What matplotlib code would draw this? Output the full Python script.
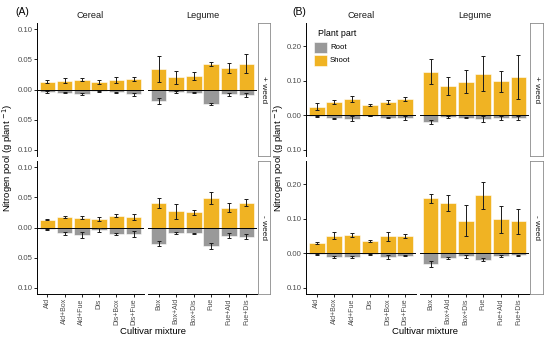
import matplotlib
matplotlib.use("Agg")
import matplotlib.pyplot as plt
import numpy as np
from matplotlib.patches import Rectangle
from matplotlib.ticker import FuncFormatter

plt.rcParams['font.family'] = ['Liberation Sans', 'DejaVu Sans']

cereal = ["Ald", "Ald+Box", "Ald+Fue", "Dis", "Dis+Box", "Dis+Fue"]
legume = ["Box", "Box+Ald", "Box+Dis", "Fue", "Fue+Ald", "Fue+Dis"]

# Panel A (+ weed): first 6 cereal, last 6 legume
a_weed_shoot = [0.013, 0.0146, 0.0163, 0.012, 0.015, 0.0174, 0.034, 0.020, 0.0225, 0.042, 0.036, 0.0427]
a_weed_shoot_err = [0.0025, 0.004, 0.003, 0.003, 0.005, 0.004, 0.021, 0.011, 0.007, 0.0036, 0.008, 0.016]
a_weed_root = [0.004, 0.005, 0.008, 0.003, 0.0045, 0.008, 0.019, 0.004, 0.005, 0.0236, 0.008, 0.009]
a_weed_root_err = [0.001, 0.001, 0.0015, 0.001, 0.001, 0.003, 0.005, 0.001, 0.001, 0.0015, 0.002, 0.004]
# Panel A (- weed)
a_noweed_shoot = [0.013, 0.017, 0.0163, 0.0136, 0.0196, 0.017, 0.040, 0.0266, 0.025, 0.0495, 0.033, 0.041]
a_noweed_shoot_err = [0.001, 0.002, 0.003, 0.0035, 0.0025, 0.0046, 0.008, 0.012, 0.0035, 0.010, 0.008, 0.006]
a_noweed_root = [0.003, 0.0098, 0.012, 0.004, 0.0103, 0.011, 0.027, 0.0092, 0.0098, 0.031, 0.0136, 0.015]
a_noweed_root_err = [0.001, 0.002, 0.005, 0.003, 0.002, 0.0046, 0.004, 0.0015, 0.0012, 0.005, 0.0045, 0.0046]
# Panel B (+ weed)
b_weed_shoot = [0.025, 0.0385, 0.048, 0.030, 0.0385, 0.047, 0.127, 0.085, 0.098, 0.121, 0.099, 0.1106]
b_weed_shoot_err = [0.0096, 0.006, 0.009, 0.003, 0.006, 0.006, 0.037, 0.027, 0.033, 0.050, 0.030, 0.064]
b_weed_root = [0.003, 0.0087, 0.0096, 0.002, 0.0067, 0.0077, 0.020, 0.005, 0.0067, 0.0106, 0.0077, 0.0077]
b_weed_root_err = [0.001, 0.002, 0.0077, 0.001, 0.002, 0.0067, 0.006, 0.002, 0.002, 0.0096, 0.005, 0.005]
# Panel B (- weed)
b_noweed_shoot = [0.030, 0.051, 0.054, 0.0365, 0.049, 0.050, 0.160, 0.146, 0.095, 0.169, 0.0985, 0.093]
b_noweed_shoot_err = [0.004, 0.0106, 0.006, 0.003, 0.012, 0.0063, 0.013, 0.022, 0.044, 0.039, 0.038, 0.036]
b_noweed_root = [0.003, 0.0115, 0.0096, 0.003, 0.0096, 0.0067, 0.030, 0.0135, 0.0087, 0.018, 0.0077, 0.006]
b_noweed_root_err = [0.001, 0.003, 0.003, 0.001, 0.006, 0.002, 0.009, 0.004, 0.004, 0.005, 0.002, 0.002]

SHOOT = '#F0B323'
ROOT = '#999999'
TICKC = '#4D4D4D'

W, H = 550, 339
fig = plt.figure(figsize=(5.5, 3.39), dpi=100)


def px_axes(x0, y0, x1, y1):
    return fig.add_axes([x0 / W, 1 - y1 / H, (x1 - x0) / W, (y1 - y0) / H])


fmt = FuncFormatter(lambda v, p: f"{abs(v):.2f}")


def draw_panel(ax, cats, shoot, shoot_err, root, root_err, ylim, yticks, first, bottom):
    x = np.arange(len(cats))
    ax.bar(x, shoot, width=0.9, color=SHOOT, edgecolor='#FFFFFF', linewidth=0.4, zorder=2)
    ax.bar(x, [-r for r in root], width=0.9, color=ROOT, edgecolor='#FFFFFF', linewidth=0.4, zorder=2)
    ax.errorbar(x, shoot, yerr=shoot_err, fmt='none', ecolor='#1a1a1a', elinewidth=0.7,
                capsize=1.6, capthick=0.7, zorder=4)
    ax.errorbar(x, [-r for r in root], yerr=root_err, fmt='none', ecolor='#1a1a1a', elinewidth=0.7,
                capsize=1.6, capthick=0.7, zorder=4)
    ax.axhline(0, color='black', lw=0.7, zorder=3)
    ax.set_xlim(-0.6, len(cats) - 0.4)
    ax.set_ylim(*ylim)
    ax.set_yticks(yticks)
    ax.yaxis.set_major_formatter(fmt)
    for s in ['top', 'right']:
        ax.spines[s].set_visible(False)
    ax.spines['left'].set_visible(first)
    ax.spines['bottom'].set_visible(bottom)
    ax.spines['left'].set_linewidth(0.7)
    ax.spines['bottom'].set_linewidth(0.7)
    ax.tick_params(axis='y', length=2, width=0.6, labelsize=5.6, labelcolor=TICKC, pad=1,
                   left=first, labelleft=first)
    ax.set_xticks(x)
    if bottom:
        ax.set_xticklabels(cats, rotation=90, fontsize=5.0, color=TICKC)
        ax.tick_params(axis='x', length=2, width=0.6, pad=1)
    else:
        ax.tick_params(axis='x', bottom=False, labelbottom=False)
    ax.patch.set_alpha(0)


def strip(x0, y0, x1, y1, label):
    ax = px_axes(x0, y0, x1, y1)
    ax.set_xticks([]); ax.set_yticks([])
    for s in ax.spines.values():
        s.set_color('#8a8a8a'); s.set_linewidth(0.6)
    ax.text(0.5, 0.5, label, rotation=270, ha='center', va='center', fontsize=6.0,
            color='#1a1a1a', transform=ax.transAxes)


rows = [(23, 156), (161, 294)]

A_lim = (-0.11, 0.11)
A_ticks = [-0.10, -0.05, 0.0, 0.05, 0.10]
A_data = [(a_weed_shoot, a_weed_shoot_err, a_weed_root, a_weed_root_err, "+ weed"),
          (a_noweed_shoot, a_noweed_shoot_err, a_noweed_root, a_noweed_root_err, "- weed")]
B_lim = (-0.1175, 0.2675)
B_ticks = [-0.10, 0.0, 0.10, 0.20]
B_data = [(b_weed_shoot, b_weed_shoot_err, b_weed_root, b_weed_root_err, "+ weed"),
          (b_noweed_shoot, b_noweed_shoot_err, b_noweed_root, b_noweed_root_err, "- weed")]

panels = [
    (A_data, A_lim, A_ticks, (37, 144), (148, 257), (258, 270)),
    (B_data, B_lim, B_ticks, (306, 416), (420, 529), (530, 543)),
]

for data, lim, ticks, cx, lx, sx in panels:
    for r, (y0, y1) in enumerate(rows):
        sh, she, ro, roe, lab = data[r]
        bottom = (r == 1)
        ax1 = px_axes(cx[0], y0, cx[1], y1)
        draw_panel(ax1, cereal, sh[:6], she[:6], ro[:6], roe[:6], lim, ticks, True, bottom)
        ax2 = px_axes(lx[0], y0, lx[1], y1)
        draw_panel(ax2, legume, sh[6:], she[6:], ro[6:], roe[6:], lim, ticks, False, bottom)
        strip(sx[0], y0, sx[1], y1, lab)
    fig.text((cx[0] + cx[1]) / 2 / W, 1 - 16 / H, "Cereal", ha='center', va='center',
             fontsize=6.6, color='#1a1a1a')
    fig.text((lx[0] + lx[1]) / 2 / W, 1 - 16 / H, "Legume", ha='center', va='center',
             fontsize=6.6, color='#1a1a1a')
    fig.text((cx[0] + sx[1]) / 2 / W, 1 - 331 / H, "Cultivar mixture", ha='center', va='center',
             fontsize=6.8, color='black')

ylab = r"Nitrogen pool (g plant $^{-1}$)"
fig.text(8 / W, 1 - 158 / H, ylab, rotation=90, ha='center', va='center', fontsize=6.8)
fig.text(279 / W, 1 - 158 / H, ylab, rotation=90, ha='center', va='center', fontsize=6.8)

fig.text(15 / W, 1 - 12 / H, "(A)", ha='left', va='center', fontsize=7.5)
fig.text(292 / W, 1 - 12 / H, "(B)", ha='left', va='center', fontsize=7.5)

fig.text(318 / W, 1 - 33 / H, "Plant part", ha='left', va='center', fontsize=6.4)
lax = fig.add_axes([0, 0, 1, 1]); lax.set_xlim(0, W); lax.set_ylim(H, 0); lax.axis('off')
lax.patch.set_alpha(0)
lax.add_patch(Rectangle((314, 42), 13, 11, facecolor=ROOT, edgecolor='#FFFFFF', lw=0.4))
lax.add_patch(Rectangle((314, 55), 13, 11, facecolor=SHOOT, edgecolor='#FFFFFF', lw=0.4))
lax.text(330, 47.5, "Root", ha='left', va='center', fontsize=5.6)
lax.text(330, 60.5, "Shoot", ha='left', va='center', fontsize=5.6)

fig.savefig("out.png", dpi=100)
